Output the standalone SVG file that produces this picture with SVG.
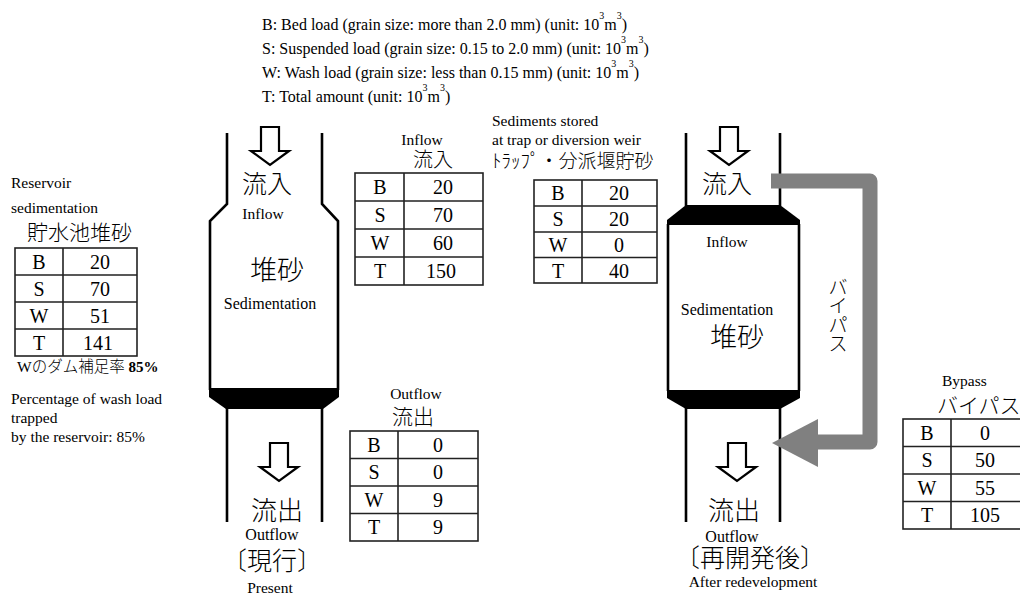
<svg xmlns="http://www.w3.org/2000/svg" width="1020" height="597" viewBox="0 0 1020 597">
  <style>
    text { font-family: "Liberation Serif", "Noto Sans CJK JP", serif; font-weight: 300; fill: #000; }
    .leg { font-size: 16px; }
    .sup { font-size: 10px; }
    .lbl { font-size: 15.5px; }
    .jp { font-size: 21px; }
    .jpl { font-size: 26px; }
    .c { text-anchor: middle; }
    .tv { font-size: 20px; text-anchor: middle; }
    .grid { fill: #fff; stroke: #222; stroke-width: 1.6; }
    .gl { stroke: #222; stroke-width: 1.6; fill: none; }
    .wall { stroke: #000; stroke-width: 2.6; fill: none; }
    .band { fill: #000; }
    .flow { fill: #fff; stroke: #000; stroke-width: 2.2; stroke-linejoin: miter; }
  </style>
  <defs>
    <!-- hollow down arrow, origin at stem top centre -->
    <path id="downArrow" class="flow" d="M-9,0 H9 V24 H19 L0,38 L-19,24 H-9 Z"/>
  </defs>

  <!-- legend -->
  <g id="legend" class="leg">
    <text x="262" y="30">B: Bed load (grain size: more than 2.0 mm) (unit: 10<tspan class="sup" dy="-11">3</tspan><tspan dy="11">m</tspan><tspan class="sup" dy="-11">3</tspan><tspan dy="11">)</tspan></text>
    <text x="262" y="54">S: Suspended load (grain size: 0.15 to 2.0 mm) (unit: 10<tspan class="sup" dy="-11">3</tspan><tspan dy="11">m</tspan><tspan class="sup" dy="-11">3</tspan><tspan dy="11">)</tspan></text>
    <text x="262" y="78">W: Wash load (grain size: less than 0.15 mm) (unit: 10<tspan class="sup" dy="-11">3</tspan><tspan dy="11">m</tspan><tspan class="sup" dy="-11">3</tspan><tspan dy="11">)</tspan></text>
    <text x="262" y="102">T: Total amount (unit: 10<tspan class="sup" dy="-11">3</tspan><tspan dy="11">m</tspan><tspan class="sup" dy="-11">3</tspan><tspan dy="11">)</tspan></text>
  </g>

  <!-- reservoir sedimentation table -->
  <g id="table-reservoir">
    <text class="lbl" x="11" y="188">Reservoir</text>
    <text class="lbl" x="11" y="213">sedimentation</text>
    <text class="jp" x="27" y="240">貯水池堆砂</text>
    <rect class="grid" x="15" y="248" width="122" height="108"/>
    <path class="gl" d="M63,248 V356 M15,275 H137 M15,302 H137 M15,329 H137"/>
    <text class="tv" x="39" y="268.5">B</text><text class="tv" x="100" y="268.5">20</text>
    <text class="tv" x="39" y="295.5">S</text><text class="tv" x="100" y="295.5">70</text>
    <text class="tv" x="39" y="322.5">W</text><text class="tv" x="100" y="322.5">51</text>
    <text class="tv" x="39" y="349.5">T</text><text class="tv" x="98" y="349.5">141</text>
    <text x="17" y="372" style="font-size:15.5px">Wのダム補足率 <tspan style="font-weight:bold;font-size:15px">85%</tspan></text>
    <text class="lbl" x="11" y="404">Percentage of wash load</text>
    <text class="lbl" x="11" y="423">trapped</text>
    <text class="lbl" x="11" y="442">by the reservoir: 85%</text>
  </g>

  <!-- present reservoir -->
  <g id="reservoir-present">
    <path class="wall" d="M227,133 V204 L210,221 V390"/>
    <path class="wall" d="M322,133 V204 L338,221 V390"/>
    <polygon class="band" points="209,388 339,388 339,397 323,409 226,409 209,397"/>
    <path class="wall" d="M227,408 V522 M322,408 V522"/>
    <use href="#downArrow" x="270" y="127"/>
    <text class="c" x="267" y="193" style="font-size:25px">流入</text>
    <text class="c lbl" x="263" y="219">Inflow</text>
    <text class="c" x="277" y="280" style="font-size:27px">堆砂</text>
    <text class="c" x="270" y="309" style="font-size:16px">Sedimentation</text>
    <use href="#downArrow" x="279" y="443"/>
    <text class="c jpl" x="277" y="520">流出</text>
    <text class="c" x="272" y="540" style="font-size:16px">Outflow</text>
    <text class="c" x="272" y="570" style="font-size:25px">〔現行〕</text>
    <text class="c lbl" x="270" y="593">Present</text>
  </g>

  <!-- inflow table -->
  <g id="table-inflow">
    <text class="c lbl" x="422" y="145">Inflow</text>
    <text class="c" x="433" y="167" style="font-size:20px">流入</text>
    <rect class="grid" x="355" y="173" width="128" height="112"/>
    <path class="gl" d="M404,173 V285 M355,201 H483 M355,229 H483 M355,257 H483"/>
    <text class="tv" x="380" y="194">B</text><text class="tv" x="443" y="194">20</text>
    <text class="tv" x="380" y="222">S</text><text class="tv" x="443" y="222">70</text>
    <text class="tv" x="380" y="250">W</text><text class="tv" x="443" y="250">60</text>
    <text class="tv" x="380" y="278">T</text><text class="tv" x="441" y="278">150</text>
  </g>

  <!-- outflow table -->
  <g id="table-outflow">
    <text class="c lbl" x="416" y="399">Outflow</text>
    <text class="c" x="413" y="424" style="font-size:21px">流出</text>
    <rect class="grid" x="350" y="431" width="128" height="110"/>
    <path class="gl" d="M398,431 V541 M350,458.5 H478 M350,486 H478 M350,513.5 H478"/>
    <text class="tv" x="374" y="451.5">B</text><text class="tv" x="438" y="451.5">0</text>
    <text class="tv" x="374" y="479">S</text><text class="tv" x="438" y="479">0</text>
    <text class="tv" x="374" y="506.5">W</text><text class="tv" x="438" y="506.5">9</text>
    <text class="tv" x="374" y="534">T</text><text class="tv" x="438" y="534">9</text>
  </g>

  <!-- trap / diversion weir table -->
  <g id="table-trap">
    <text class="lbl" x="492" y="126">Sediments stored</text>
    <text class="lbl" x="492" y="145">at trap or diversion weir</text>
    <text x="492" y="168" style="font-size:19px">ﾄﾗｯﾌﾟ・分派堰貯砂</text>
    <rect class="grid" x="534" y="180" width="123" height="103"/>
    <path class="gl" d="M582,180 V283 M534,206 H657 M534,232 H657 M534,257.5 H657"/>
    <text class="tv" x="558" y="200">B</text><text class="tv" x="619" y="200">20</text>
    <text class="tv" x="558" y="226">S</text><text class="tv" x="619" y="226">20</text>
    <text class="tv" x="558" y="252">W</text><text class="tv" x="619" y="252">0</text>
    <text class="tv" x="558" y="277.5">T</text><text class="tv" x="619" y="277.5">40</text>
  </g>

  <!-- reservoir after redevelopment -->
  <g id="reservoir-after">
    <path class="wall" d="M686,133 V206 M780,133 V206"/>
    <polygon class="band" points="686,205 780,205 800,220 800,225 667,225 667,220"/>
    <path class="wall" d="M668,224 V391 M799,224 V391"/>
    <polygon class="band" points="667,390 800,390 800,398 780,409 686,409 667,398"/>
    <path class="wall" d="M686,408 V522 M780,408 V522"/>
    <use href="#downArrow" x="729" y="127"/>
    <text class="c" x="727" y="193" style="font-size:25px">流入</text>
    <text class="c lbl" x="727" y="247">Inflow</text>
    <text class="c" x="727" y="315" style="font-size:16px">Sedimentation</text>
    <text class="c" x="737" y="347" style="font-size:27px">堆砂</text>
    <use href="#downArrow" x="737" y="443"/>
    <text class="c jpl" x="734" y="520">流出</text>
    <text class="c" x="732" y="542" style="font-size:16px">Outflow</text>
    <text class="c" x="750" y="567" style="font-size:25px">〔再開発後〕</text>
    <text class="c lbl" x="753" y="587">After redevelopment</text>
  </g>

  <!-- bypass connector -->
  <g id="connectors">
    <path d="M771,181 H870 V442 H814" fill="none" stroke="#808080" stroke-width="15" stroke-linejoin="round"/>
    <polygon points="772,443 818,419 818,467" fill="#808080"/>
    <text style="font-size:19px" text-anchor="middle">
      <tspan x="838" y="294">バ</tspan><tspan x="838" y="313">イ</tspan><tspan x="838" y="332">パ</tspan><tspan x="838" y="351">ス</tspan>
    </text>
  </g>

  <!-- bypass table -->
  <g id="table-bypass">
    <text class="lbl" x="942" y="386">Bypass</text>
    <text x="937" y="413" style="font-size:21px">バイパス</text>
    <rect class="grid" x="903" y="419" width="120" height="110"/>
    <path class="gl" d="M951,419 V529 M903,446.5 H1023 M903,474 H1023 M903,501.5 H1023"/>
    <text class="tv" x="927" y="439.5">B</text><text class="tv" x="985" y="439.5">0</text>
    <text class="tv" x="927" y="467">S</text><text class="tv" x="985" y="467">50</text>
    <text class="tv" x="927" y="494.5">W</text><text class="tv" x="985" y="494.5">55</text>
    <text class="tv" x="927" y="522">T</text><text class="tv" x="985" y="522">105</text>
  </g>
</svg>
